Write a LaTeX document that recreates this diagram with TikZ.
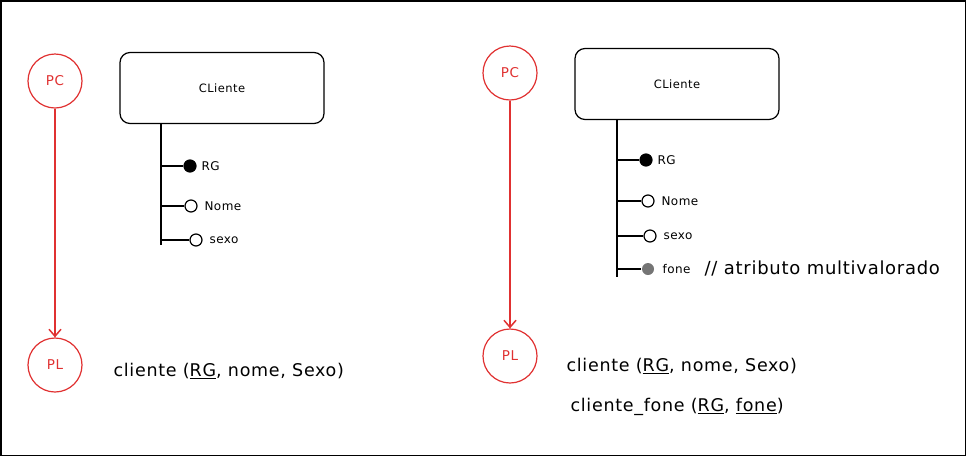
\documentclass[tikz,border=0pt]{standalone}
\usepackage{fontspec}
\setmainfont[LetterSpace=4]{DejaVu Sans}
\usetikzlibrary{arrows.meta}
\definecolor{sketchred}{HTML}{E03131}
\definecolor{multigray}{HTML}{757575}
\begin{document}
\begin{tikzpicture}
  [x=1pt,y=-1pt,line width=1.2pt,
   every node/.style={font=\fontsize{12}{14}\selectfont},
   phase/.style={circle,draw=sketchred,text=sketchred,minimum size=54pt,inner sep=0pt,font=\fontsize{13.5}{15}\selectfont},
   entity/.style={draw,rounded corners=10pt,minimum width=204pt,minimum height=71pt,font=\fontsize{11.5}{13}\selectfont},
   key/.style={circle,draw,fill=black,minimum size=12pt,inner sep=0pt},
   attr/.style={circle,draw,fill=white,minimum size=12pt,inner sep=0pt},
   multi/.style={circle,fill=multigray,minimum size=12pt,inner sep=0pt},
   tuple/.style={anchor=west,inner sep=0pt,font=\fontsize{17.5}{20}\selectfont},
   trunk/.style={line width=2pt}]
  \draw[line width=1.5pt] (0.75,0.75) rectangle (965.25,455.25);

  % left: one table
  \node[phase] (pc1) at (55,81) {PC};
  \node[phase] (pl1) at (55,365) {PL};
  \draw[sketchred,line width=1.5pt,-{Straight Barb[length=7pt,width=12pt]}] (pc1) -- (pl1);
  \node[entity] (cli1) at (222,88) {CLiente};
  \coordinate (top1) at (161,123);
  \coordinate (bot1) at (161,245);
  \draw[trunk] (top1) -- (bot1);
  \node[key,label={[label distance=1pt]right:RG}] (rg1) at (190,166) {};
  \node[attr,label={[label distance=3pt]right:Nome}] (nome1) at (191,206) {};
  \node[attr,label={[label distance=3pt]right:sexo}] (sexo1) at (196,240) {};
  \foreach \a in {rg1,nome1,sexo1}
    \draw (top1 |- \a) -- (\a);
  \node[tuple] (rel1) at (113,371) {cliente (\underline{RG}, nome, Sexo)};

  % right: multivalued attribute
  \node[phase] (pc2) at (510,73) {PC};
  \node[phase] (pl2) at (510,356) {PL};
  \draw[sketchred,line width=1.5pt,-{Straight Barb[length=7pt,width=12pt]}] (pc2) -- (pl2);
  \node[entity] (cli2) at (677,84) {CLiente};
  \coordinate (top2) at (617,120);
  \coordinate (bot2) at (617,277);
  \draw[trunk] (top2) -- (bot2);
  \node[key,label={[label distance=1pt]right:RG}] (rg2) at (646,160) {};
  \node[attr,label={[label distance=3pt]right:Nome}] (nome2) at (648,201) {};
  \node[attr,label={[label distance=3pt]right:sexo}] (sexo2) at (650,236) {};
  \node[multi] (fone2) at (648,269) {};
  \node[anchor=west,inner sep=0pt] (lfone2) at (662,269) {fone};
  \node[anchor=west,inner sep=0pt,font=\fontsize{18}{20}\selectfont] (note2) at (704,268) {// atributo multivalorado};
  \foreach \a in {rg2,nome2,sexo2,fone2}
    \draw (top2 |- \a) -- (\a);
  \node[tuple] (rel2) at (566,366) {cliente (\underline{RG}, nome, Sexo)};
  \node[tuple] (rel3) at (570,407) {cliente\_fone (\underline{RG}, \underline{fone})};
\end{tikzpicture}
\end{document}
